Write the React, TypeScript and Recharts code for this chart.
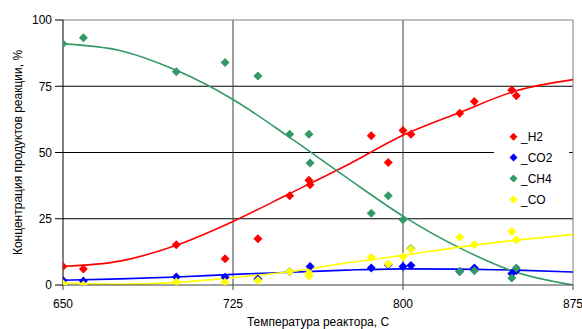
import React from 'react';
import { ComposedChart, XAxis, YAxis, Line, Scatter, ReferenceLine } from 'recharts';

const FONT = "'Liberation Sans', Arial, sans-serif";

// trend curves (read at 25 °C steps)
const curveTemps = [650, 675, 700, 725, 750, 775, 800, 825, 850, 875];
const h2Curve = [7.0, 9.0, 15.0, 24.0, 34.5, 45.1, 56.5, 65.1, 73.3, 77.5];
const co2Curve = [1.8, 2.3, 3.0, 4.0, 4.8, 5.6, 6.1, 6.0, 5.6, 4.9];
const ch4Curve = [91.0, 88.5, 81.0, 70.0, 55.7, 40.6, 26.0, 14.0, 4.8, 0.0];
const coCurve = [0.7, 0.3, 1.0, 2.8, 5.0, 8.3, 11.2, 14.3, 16.9, 19.0];

// measured points
const h2T = [650, 659, 700, 721.5, 736, 750, 758.5, 759, 786, 793.5, 800, 803.5, 825, 831.5, 848, 850];
const h2V = [7.0, 6.0, 15.2, 9.9, 17.5, 33.7, 39.5, 37.8, 56.3, 46.2, 58.3, 56.9, 64.8, 69.2, 73.6, 71.4];

const co2T = [650, 659, 700, 721.5, 736, 750, 759, 786, 793.5, 800, 803.5, 825, 831.5, 848, 850];
const co2V = [1.7, 1.5, 3.0, 2.9, 2.3, 5.0, 7.0, 6.4, 7.6, 7.0, 7.4, 5.1, 6.4, 4.3, 5.5];

const ch4T = [650, 659, 700, 721.5, 736, 750, 758.5, 759, 786, 793.5, 800, 803.5, 825, 831.5, 848, 850];
const ch4V = [91.0, 93.3, 80.5, 84.0, 78.9, 56.9, 56.9, 46.0, 27.1, 33.7, 24.6, 13.8, 5.1, 5.4, 2.6, 6.4];

const coT = [650, 659, 700, 721.5, 736, 750, 758.5, 758.5, 786, 793.5, 800, 803.5, 825, 831.5, 848, 850];
const coV = [0.5, 0.0, 1.1, 1.0, 1.7, 5.0, 4.5, 3.4, 10.4, 7.9, 10.7, 13.5, 18.0, 15.2, 20.2, 17.1];

const xTicks = [650, 725, 800, 875];
const yTicks = [0, 25, 50, 75, 100];

const seriesNames = ['_H2', '_CO2', '_CH4', '_CO'];
const seriesColors = ['#FF0000', '#0000FF', '#339966', '#FFFF00'];

const zip = (t: number[], v: number[]) => t.map((x, i) => ({ t: x, v: v[i] }));

const series = [
  { curve: zip(curveTemps, h2Curve), pts: zip(h2T, h2V) },
  { curve: zip(curveTemps, co2Curve), pts: zip(co2T, co2V) },
  { curve: zip(curveTemps, ch4Curve), pts: zip(ch4T, ch4V) },
  { curve: zip(curveTemps, coCurve), pts: zip(coT, coV) },
];

const makeDiamond = (color: string, r: number) => (props: any) => {
  const { cx, cy } = props;
  if (cx == null || cy == null) return <g />;
  return (
    <polygon
      points={`${cx},${cy - r} ${cx + r},${cy} ${cx},${cy + r} ${cx - r},${cy}`}
      fill={color}
    />
  );
};

export default function App() {
  return (
    <div style={{ position: 'absolute', left: 0, top: 0, width: 582, height: 329, background: '#fff', fontFamily: FONT }}>
      <ComposedChart width={582} height={329} margin={{ top: 20, right: 9, bottom: 0, left: 0 }}>
        <XAxis
          type="number"
          dataKey="t"
          domain={[650, 875]}
          ticks={xTicks}
          allowDataOverflow
          height={44}
          tickSize={5}
          tickMargin={9}
          axisLine={{ stroke: '#404040' }}
          tickLine={{ stroke: '#404040' }}
          tick={{ fill: '#000', fontSize: 12, fontFamily: FONT }}
          label={{ value: 'Температура реактора, С', position: 'insideBottom', offset: 3, fill: '#000', fontSize: 12, fontFamily: FONT }}
        />
        <YAxis
          type="number"
          dataKey="v"
          domain={[0, 100]}
          ticks={yTicks}
          allowDataOverflow
          width={63}
          tickSize={8}
          tickMargin={3}
          axisLine={{ stroke: '#000' }}
          tickLine={{ stroke: '#000' }}
          tick={{ fill: '#000', fontSize: 12, fontFamily: FONT }}
          label={{ value: 'Концентрация продуктов реакции, %', angle: -90, position: 'insideLeft', offset: 18, style: { textAnchor: 'middle' }, fill: '#000', fontSize: 12, fontFamily: FONT }}
        />
        <ReferenceLine y={25} stroke="#000" strokeWidth={1} />
        <ReferenceLine y={50} stroke="#000" strokeWidth={1} />
        <ReferenceLine y={75} stroke="#000" strokeWidth={1} />
        <ReferenceLine x={725} stroke="#404040" strokeWidth={1} />
        <ReferenceLine x={800} stroke="#404040" strokeWidth={1} />
        <ReferenceLine y={100} stroke="#808080" strokeWidth={1} />
        <ReferenceLine x={875} stroke="#808080" strokeWidth={1} />
        {series.map((s, i) => (
          <Line
            key={'l' + i}
            data={s.curve}
            dataKey="v"
            type="monotone"
            stroke={seriesColors[i]}
            strokeWidth={1.6}
            dot={false}
            activeDot={false}
            isAnimationActive={false}
          />
        ))}
        {series.map((s, i) => (
          <Scatter
            key={'s' + i}
            data={s.pts}
            dataKey="v"
            fill={seriesColors[i]}
            shape={makeDiamond(seriesColors[i], 4.5)}
            isAnimationActive={false}
          />
        ))}
      </ComposedChart>
      <div style={{ position: 'absolute', left: 494, top: 124, width: 75, height: 90, background: '#fff' }}>
        <svg width={75} height={90}>
          {seriesNames.map((n, i) => {
            const cy = 12.7 + i * 20.9;
            return (
              <g key={n}>
                <polygon points={`19.5,${cy - 4} 23.5,${cy} 19.5,${cy + 4} 15.5,${cy}`} fill={seriesColors[i]} />
                <text x={27} y={cy + 4.3} fontSize={12} fontFamily={FONT} fill="#000">{n}</text>
              </g>
            );
          })}
        </svg>
      </div>
    </div>
  );
}
